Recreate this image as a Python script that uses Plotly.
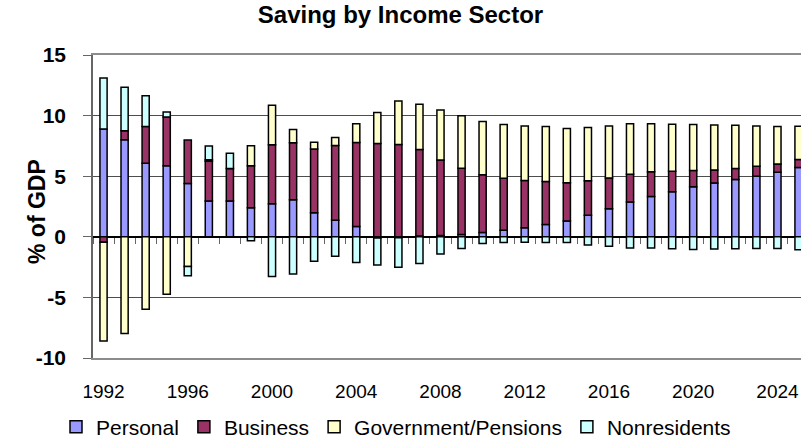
import plotly.graph_objects as go

years = list(range(1992, 2026))

personal = [8.9, 8.0, 6.07, 5.87, 4.4, 2.95, 2.95, 2.4, 2.73, 3.06, 1.99,
            1.37, 0.85, -0.1, -0.08, 0.06, 0.1, 0.2, 0.36, 0.55, 0.74, 1.01,
            1.31, 1.78, 2.32, 2.87, 3.33, 3.72, 4.13, 4.43, 4.73, 5.0, 5.33, 5.71]
business = [-0.45, 0.74, 3.03, 4.02, 3.58, 3.28, 2.68, 3.47, 4.87, 4.7, 5.25,
            6.17, 6.94, 7.7, 7.62, 7.14, 6.24, 5.45, 4.75, 4.29, 3.9, 3.55,
            3.14, 2.84, 2.54, 2.29, 2.03, 1.69, 1.33, 1.09, 0.9, 0.82, 0.68, 0.66]
government = [-8.15, -7.98, -5.98, -4.75, -2.46, 0.12, 0.0, 1.64, 3.25, 1.09, 0.57,
              0.66, 1.53, 2.55, 3.58, 3.73, 4.12, 4.34, 4.4, 4.43, 4.5, 4.54,
              4.48, 4.4, 4.29, 4.16, 3.96, 3.88, 3.8, 3.71, 3.58, 3.33, 3.09, 2.76]
nonresidents = [4.2, 3.6, 2.54, 0.41, -0.76, 1.14, 1.26, -0.33, -3.28, -3.06, -2.02,
                -1.61, -2.13, -2.22, -2.43, -2.21, -1.42, -0.96, -0.55, -0.46, -0.44, -0.46,
                -0.46, -0.68, -0.79, -0.93, -0.93, -0.98, -1.04, -1.01, -0.98, -0.96, -0.96, -1.07]

series = [
    ("Personal", personal, "#9999FF"),
    ("Business", business, "#993366"),
    ("Government/Pensions", government, "#FFFFCC"),
    ("Nonresidents", nonresidents, "#CCFFFF"),
]

tick_years = list(range(1992, 2025, 4))
boundaries = [y - 0.5 for y in years] + [years[-1] + 0.5]

FONT = "Liberation Sans, Arial, sans-serif"

fig = go.Figure()
for name, vals, color in series:
    fig.add_trace(go.Bar(
        x=years, y=vals, name=name,
        marker=dict(color=color, line=dict(color="black", width=1.5)),
    ))

# helper trace so the zero-crossing tick axis is drawn
fig.add_trace(go.Scatter(x=[years[0]], y=[0], xaxis="x2", mode="markers",
                         marker=dict(opacity=0), showlegend=False, hoverinfo="skip"))

xrange = [years[0] - 0.5, years[0] - 0.5 + 708 / 21.06]

fig.update_layout(
    width=801, height=440,
    margin=dict(l=93, r=0, t=55, b=82, autoexpand=False),
    barmode="relative",
    bargap=0.66,
    plot_bgcolor="white", paper_bgcolor="white",
    font=dict(family=FONT, color="black"),
    title=dict(text="<b>Saving by Income Sector</b>", x=0.5, xref="container",
               xanchor="center", y=1 - 6 / 440, yref="container", yanchor="top",
               font=dict(size=24, family=FONT, color="black")),
    xaxis=dict(range=xrange, tickmode="array", tickvals=tick_years,
               ticktext=[str(y) for y in tick_years], automargin=False,
               tickfont=dict(size=19), ticks="", ticklabelstandoff=15,
               showgrid=False, zeroline=False,
               showline=True, mirror=True, linecolor="#8c8c8c", linewidth=2),
    xaxis2=dict(overlaying="x", anchor="free", position=0.4, range=xrange,
                tickmode="array", tickvals=boundaries, ticks="outside", ticklen=6,
                tickcolor="#666666", tickwidth=1, showticklabels=False, automargin=False,
                showgrid=False, zeroline=False, showline=False),
    yaxis=dict(range=[-10, 15], tickmode="array", tickvals=[-10, -5, 0, 5, 10, 15],
               ticktext=["<b>-10</b>", "<b>-5</b>", "<b>0</b>", "<b>5</b>", "<b>10</b>", "<b>15</b>"],
               tickfont=dict(size=21), ticks="outside", ticklen=8, tickcolor="#666666",
               ticklabelstandoff=13, automargin=False,
               showgrid=True, gridcolor="#4d4d4d", gridwidth=1,
               zeroline=True, zerolinecolor="black", zerolinewidth=2,
               showline=True, linecolor="#666666", linewidth=1.5),
    annotations=[dict(text="<b>% of GDP</b>", textangle=-90, xref="paper", yref="paper",
                      x=-56 / 708, y=(358 - 211) / 303, xanchor="center", yanchor="middle",
                      showarrow=False, font=dict(size=23, family=FONT, color="black"))],
    legend=dict(orientation="h", xref="container", yref="container",
                x=56 / 801, xanchor="left", y=13 / 440, yanchor="middle",
                font=dict(size=21), itemwidth=30, traceorder="normal"),
    showlegend=True,
)

fig.write_html("out.html", config={"displayModeBar": False},
               post_script="document.body.style.margin='0';document.body.style.overflow='hidden';")
